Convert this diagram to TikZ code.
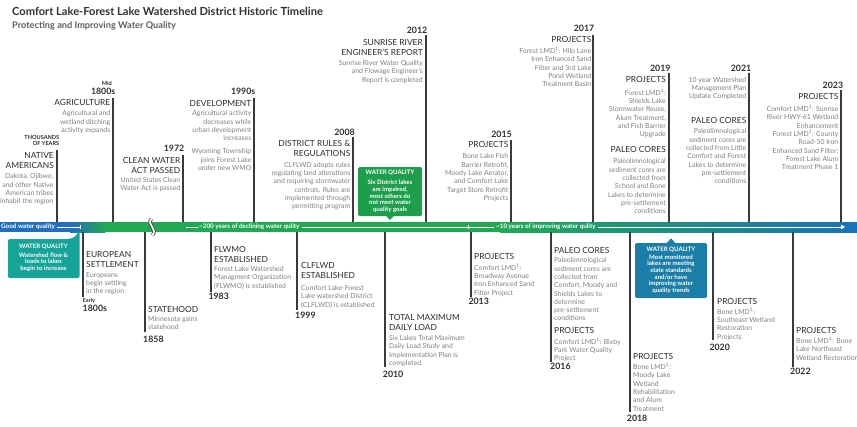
\documentclass[tikz,border=0pt]{standalone}
\usepackage{fontspec}
\setmainfont{Lato}
\usetikzlibrary{arrows.meta,calc,positioning}

\definecolor{inkgray}{RGB}{48,48,48}
\definecolor{headgray}{RGB}{45,45,45}
\definecolor{subgray}{RGB}{95,95,95}
\definecolor{bodygray}{RGB}{128,128,128}
\definecolor{stemgray}{RGB}{58,58,58}
\definecolor{bandblue}{RGB}{33,110,190}
\definecolor{bandgreen}{RGB}{34,168,82}
\definecolor{bandteal}{RGB}{20,150,140}
\definecolor{bandend}{RGB}{28,114,184}
\definecolor{wqteal}{RGB}{22,163,152}
\definecolor{wqgreen}{RGB}{30,158,76}
\definecolor{wqblue}{RGB}{26,126,166}

\tikzset{
  stem/.style={stemgray, line width=1.5pt},
  yr/.style={font=\fontsize{8.8}{9}\selectfont\bfseries, text=inkgray, inner sep=0},
  tinytxt/.style={font=\fontsize{5.6}{6.3}\selectfont\bfseries, text=inkgray, inner sep=0, align=right},
  hd/.style={font=\fontsize{8.4}{10}\selectfont, text=headgray, inner sep=0},
  bd/.style={font=\fontsize{6.9}{8.3}\selectfont, text=bodygray, inner sep=0},
  upr/.style={anchor=north east, align=right},
  dnl/.style={anchor=north west, align=left},
  wq/.style={font=\fontsize{6.1}{6.7}\selectfont\bfseries, text=white, align=center, inner sep=0},
  bandtxt/.style={font=\fontsize{6.3}{7}\selectfont\bfseries, text=white, inner sep=0, anchor=west},
  bandline/.style={white, line width=0.6pt},
}

\begin{document}
\begin{tikzpicture}[x=1pt,y=-1pt]
\useasboundingbox (0,0) rectangle (857,426);
\fill[white] (0,0) rectangle (857,426);

% heading
\node[anchor=base west, inner sep=0, font=\fontsize{11.1}{13}\selectfont\bfseries, text=inkgray] (title) at (12,15.5) {Comfort Lake-Forest Lake Watershed District Historic Timeline};
\node[anchor=base west, inner sep=0, font=\fontsize{9.2}{11}\selectfont\bfseries, text=subgray] (subtitle) at (12,28) {Protecting and Improving Water Quality};

% the band
\coordinate (bandtop) at (0,222);
\coordinate (bandbot) at (0,232);
\fill[bandblue] (0,222) rectangle (70.5,232);
\shade[left color=bandblue, right color=bandgreen] (70,222) rectangle (105.5,232);
\fill[bandgreen] (105,222) rectangle (500.5,232);
\shade[left color=bandgreen, middle color=bandteal, right color=bandend] (500,222) rectangle (857,232);

\node[bandtxt] (good) at (1,227) {Good water quality};
\node[bandtxt] (decl) at (199,227) {\textasciitilde200 years of declining water qulity};
\node[bandtxt] (impr) at (496,227) {\textasciitilde10 years of improving water qulity};
\draw[bandline] (good.east) ++(2,0) -- (80,227) (80,225) -- (80,229);
\draw[bandline] (186,227) -- ($(decl.west)+(-1.5,0)$);
\draw[bandline] (decl.east) ++(2,0) -- ($(impr.west)+(-2,0)$) (468,225) -- (468,229);
\draw[bandline, -{Triangle[length=4pt,width=4.5pt]}] (impr.east) ++(2,0) -- (845,227);

% break in the band
\draw[stemgray, line width=3.4pt] (151.5,219) .. controls (146,224) and (158,229) .. (152.5,235);
\draw[white, line width=1.8pt] (151.5,219) .. controls (146,224) and (158,229) .. (152.5,235);

% ---- events above the band ----
\coordinate (nattop) at (57,150);
\draw[stem] (nattop) -- (nattop |- bandtop);
\node[tinytxt, anchor=north east] (natyr) at (59.5,134.8) {THOUSANDS\\OF YEARS};
\node[hd, upr] (nathd) at (54,151.9) {NATIVE\\AMERICANS};
\node[bd, upr] (natbd) at (53.5,173.6) {Dakota, Ojibwe,\\and other Native\\American tribes\\inhabit the region};

\coordinate (agritop) at (113,98);
\draw[stem] (agritop) -- (agritop |- bandtop);
\node[tinytxt, anchor=base east] (agrimid) at (112,85.2) {Mid};
\node[yr, anchor=base east] (agriyr) at (115.5,94.1) {1800s};
\node[hd, upr] (agrihd) at (110.5,99.6) {AGRICULTURE};
\node[bd, upr] (agribd) at (110.5,110.6) {Agricultural and\\wetland ditching\\activity expands};

\coordinate (cwatop) at (183,155);
\draw[stem] (cwatop) -- (cwatop |- bandtop);
\node[yr, anchor=base east] (cwayr) at (184.5,151.4) {1972};
\node[hd, upr] (cwahd) at (180.5,156.9) {CLEAN WATER\\ACT PASSED};
\node[bd, upr] (cwabd) at (180.5,176.9) {United States Clean\\Water Act is passed};

\coordinate (devtop) at (254,98);
\draw[stem] (devtop) -- (devtop |- bandtop);
\node[yr, anchor=base east] (devyr) at (255.5,94.1) {1990s};
\node[hd, upr] (devhd) at (251.5,99.9) {DEVELOPMENT};
\node[bd, upr] (devbd) at (251.5,110.6) {Agricultural activity\\decreases while\\urban development\\increases};
\node[bd, upr] (devwmo) at (251.5,148.6) {Wyoming Township\\joins Forest Lake\\under new WMO};

\coordinate (rultop) at (353,137);
\draw[stem] (rultop) -- (rultop |- bandtop);
\node[yr, anchor=base east] (rulyr) at (355,135) {2008};
\node[hd, upr] (rulhd) at (350.5,139.9) {DISTRICT RULES \&\\REGULATIONS};
\node[bd, upr] (rulbd) at (350.5,161.9) {CLFLWD adopts rules\\regulating land alterations\\and requiring stormwater\\controls. Rules are\\implemented through\\permitting program};

\coordinate (suntop) at (426,35);
\draw[stem] (suntop) -- (suntop |- bandtop);
\node[yr, anchor=base east] (sunyr) at (427.5,33.8) {2012};
\node[hd, upr] (sunhd) at (423,39.6) {SUNRISE RIVER\\ENGINEER'S REPORT};
\node[bd, upr] (sunbd) at (423,60.2) {Sunrise River Water Quality\\and Flowage Engineer's\\Report is completed};

\coordinate (p15top) at (511,140);
\draw[stem] (p15top) -- (p15top |- bandtop);
\node[yr, anchor=base east] (p15yr) at (512,137.1) {2015};
\node[hd, upr] (p15hd) at (508.5,140.9) {PROJECTS};
\node[bd, upr] (p15bd) at (508.5,153.6) {Bone Lake Fish\\Barrier Retrofit,\\Moody Lake Aerator,\\and Comfort Lake\\Target Store Retrofit\\Projects};

\coordinate (p17top) at (593,35);
\draw[stem] (p17top) -- (p17top |- bandtop);
\node[yr, anchor=base east] (p17yr) at (594.5,31.1) {2017};
\node[hd, upr] (p17hd) at (591.5,35.9) {PROJECTS};
\node[bd, upr] (p17bd) at (591.5,46.9) {Forest LMD\textsuperscript{1}: Hilo Lane\\Iron Enhanced Sand\\Filter and 3rd Lake\\Pond Wetland\\Treatment Basin};

\coordinate (p19top) at (669,73);
\draw[stem] (p19top) -- (p19top |- bandtop);
\node[yr, anchor=base east] (p19yr) at (670.7,71.1) {2019};
\node[hd, upr] (p19hd) at (666,75.9) {PROJECTS};
\node[bd, upr] (p19bd) at (666,88.6) {Forest LMD\textsuperscript{1}:\\Shields Lake\\Stormwater Reuse,\\Alum Treatment,\\and Fish Barrier\\Upgrade};
\node[hd, upr] (p19pc) at (666,145.9) {PALEO CORES};
\node[bd, upr] (p19pcbd) at (666,158.6) {Paleolimnological\\sediment cores are\\collected from\\School and Bone\\Lakes to determine\\pre-settlement\\conditions};

\coordinate (p21top) at (749,73);
\draw[stem] (p21top) -- (p21top |- bandtop);
\node[yr, anchor=base east] (p21yr) at (751.5,71.1) {2021};
\node[bd, upr] (p21bd) at (746.5,76.9) {10 year Watershed\\Management Plan\\Update Completed};
\node[hd, upr] (p21pc) at (746.5,116.9) {PALEO CORES};
\node[bd, upr] (p21pcbd) at (746.5,128.6) {Paleolimnological\\sediment cores are\\collected from Little\\Comfort and Forest\\Lakes to determine\\pre-settlement\\conditions};

\coordinate (p23top) at (841,90);
\draw[stem] (p23top) -- (p23top |- bandtop);
\node[yr, anchor=base east] (p23yr) at (843.3,88.1) {2023};
\node[hd, upr] (p23hd) at (838.5,92.9) {PROJECTS};
\node[bd, upr] (p23bd) at (838.5,104.9) {Comfort LMD\textsuperscript{1}: Sunrise\\River HWY-61 Wetland\\Enhancement\\Forest LMD\textsuperscript{1}: County\\Road-50 Iron\\Enhanced Sand Filter;\\Forest Lake Alum\\Treatment Phase 1};

% ---- events below the band ----
\coordinate (eurbot) at (83,297);
\draw[stem] (eurbot |- bandbot) -- (eurbot);
\node[hd, dnl] (eurhd) at (86,251.2) {EUROPEAN\\SETTLEMENT};
\node[bd, dnl] (eurbd) at (86,271.9) {Europeans\\begin settling\\in the region};
\node[tinytxt, anchor=base west] (eurearly) at (82.5,302) {Early};
\node[yr, anchor=base west] (euryr) at (82.5,311.1) {1800s};

\coordinate (stabot) at (145,332);
\draw[stem] (stabot |- bandbot) -- (stabot);
\node[hd, dnl] (stahd) at (148,305.9) {STATEHOOD};
\node[bd, dnl] (stabd) at (148,316.2) {Minnesota gains\\statehood};
\node[yr, anchor=base west] (stayr) at (143,342.1) {1858};

\coordinate (flwbot) at (211,292);
\draw[stem] (flwbot |- bandbot) -- (flwbot);
\node[hd, dnl] (flwhd) at (214,245.9) {FLWMO\\ESTABLISHED};
\node[bd, dnl] (flwbd) at (214,266.2) {Forest Lake Watershed\\Managment Organization\\(FLWMO) is established};
\node[yr, anchor=base west] (flwyr) at (208.3,299.1) {1983};

\coordinate (clfbot) at (297,310);
\draw[stem] (clfbot |- bandbot) -- (clfbot);
\node[hd, dnl] (clfhd) at (301,262.6) {CLFLWD\\ESTABLISHED};
\node[bd, dnl] (clfbd) at (301,285.2) {Comfort Lake-Forest\\Lake watershed District\\(CLFLWD) is established};
\node[yr, anchor=base west] (clfyr) at (295,318.8) {1999};

\coordinate (tmdbot) at (385,367);
\draw[stem] (tmdbot |- bandbot) -- (tmdbot);
\node[hd, dnl] (tmdhd) at (389,314.6) {TOTAL MAXIMUM\\DAILY LOAD};
\node[bd, dnl] (tmdbd) at (389,335.2) {Six Lakes Total Maximum\\Daily Load Study and\\Implementation Plan is\\completed.};
\node[yr, anchor=base west] (tmdyr) at (382.7,377.1) {2010};

\coordinate (p13bot) at (471,297);
\draw[stem] (p13bot |- bandbot) -- (p13bot);
\node[hd, dnl] (p13hd) at (474,252.9) {PROJECTS};
\node[bd, dnl] (p13bd) at (474,263.6) {Comfort LMD\textsuperscript{1}:\\Broadway Avenue\\Iron Enhanced Sand\\Filter Project};
\node[yr, anchor=base west] (p13yr) at (468.3,304.1) {2013};

\coordinate (p16bot) at (551,362);
\draw[stem] (p16bot |- bandbot) -- (p16bot);
\node[hd, dnl] (p16pc) at (554,246.9) {PALEO CORES};
\node[bd, dnl] (p16pcbd) at (554,257.6) {Paleolimnological\\sediment cores are\\collected from\\Comfort, Moody and\\Shields Lakes to\\determine\\pre-settlement\\conditions};
\node[hd, dnl] (p16hd) at (554,326.9) {PROJECTS};
\node[bd, dnl] (p16bd) at (554,337.6) {Comfort LMD\textsuperscript{1}: Bixby\\Park Water Quality\\Project};
\node[yr, anchor=base west] (p16yr) at (550,369.1) {2016};

\coordinate (p18bot) at (630,412);
\draw[stem] (p18bot |- bandbot) -- (p18bot);
\node[hd, dnl] (p18hd) at (633,353.6) {PROJECTS};
\node[bd, dnl] (p18bd) at (633,362.9) {Bone LMD\textsuperscript{1}:\\Moody Lake\\Wetland\\Rehabilitation\\and Alum\\Treatment};
\node[yr, anchor=base west] (p18yr) at (626.7,421.1) {2018};

\coordinate (p20bot) at (713,340);
\draw[stem] (p20bot |- bandbot) -- (p20bot);
\node[hd, dnl] (p20hd) at (717,298.6) {PROJECTS};
\node[bd, dnl] (p20bd) at (717,307.6) {Bone LMD\textsuperscript{1}:\\Southeast Wetland\\Restoration\\Projects};
\node[yr, anchor=base west] (p20yr) at (709.3,350.1) {2020};

\coordinate (p22bot) at (793,367);
\draw[stem] (p22bot |- bandbot) -- (p22bot);
\node[hd, dnl] (p22hd) at (796,326.9) {PROJECTS};
\node[bd, dnl] (p22bd) at (796,336.9) {Bone LMD\textsuperscript{1}: Bone\\Lake Northeast\\Wetland Restoration};
\node[yr, anchor=base west] (p22yr) at (790,374.8) {2022};

% ---- water quality call-outs ----
\fill[wqteal, rounded corners=1.5pt] (8,278) -- (8,239) -- (65,239) [sharp corners] .. controls (73,239) and (77,236) .. (78,232) -- (79.5,232) [rounded corners=1.5pt] -- (79.5,278) -- cycle;
\node[wq] (wqold) at (43.5,257.7) {WATER QUALITY\\[2.4pt]Watershed flow \&\\loads to lakes\\begin to increase};

\node[wq, fill=wqgreen, rounded corners=1.5pt, minimum width=64pt, minimum height=49pt] (wq2010) at (390,191.5) {WATER QUALITY\\[3pt]Six District lakes\\are impaired,\\most others do\\not meet water\\quality goals};
\fill[wqgreen] ($(wq2010.south)+(-4,-0.5)$) -- ($(wq2010.south)+(4,-0.5)$) -- ($(wq2010.south)+(0,3.8)$) -- cycle;

\node[wq, fill=wqblue, rounded corners=1.5pt, minimum width=72pt, minimum height=55pt] (wq2018) at (671,270.5) {WATER QUALITY\\[0.6pt]Most monitored\\lakes are meeting\\state standards\\and/or have\\improving water\\quality trends};
\fill[wqblue] ($(wq2018.north)+(-4.5,0.5)$) -- ($(wq2018.north)+(4.5,0.5)$) -- ($(wq2018.north)+(0,-4.5)$) -- cycle;
\end{tikzpicture}
\end{document}
